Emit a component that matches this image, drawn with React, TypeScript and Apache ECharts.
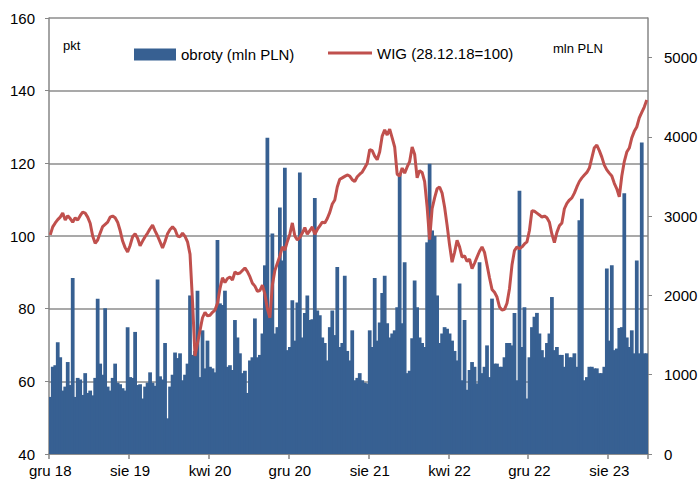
import React, { useEffect, useRef } from "react";
import * as echarts from "echarts";

// Months covered by the x axis (Dec 2018 .. Nov 2023), 4 samples per month
const monthNames = ["sty", "lut", "mar", "kwi", "maj", "cze", "lip", "sie", "wrz", "paź", "lis", "gru"];
const xTickLabels = ["gru 18", "sie 19", "kwi 20", "gru 20", "sie 21", "kwi 22", "gru 22", "sie 23"];
const samplesPerMonth = 4;
const monthsOnAxis = 60;
const labelEvery = 32; // 8 months

const categories: string[] = [];
for (let m = 0; m < monthsOnAxis; m++) {
  const mi = (11 + m) % 12;
  const yr = 2018 + Math.floor((11 + m) / 12);
  for (let w = 0; w < samplesPerMonth; w++) {
    categories.push(`${monthNames[mi]} ${String(yr).slice(2)} #${w + 1}`);
  }
}

// obroty (mln PLN) – right axis
const turnover = [
  720, 1100, 1120, 1410, 1220, 800, 850, 1160, 870, 2220,
  720, 960, 940, 745, 1020, 770, 800, 740, 960, 1960,
  1140, 1000, 1840, 850, 800, 960, 1140, 900, 880, 830,
  800, 1600, 970, 960, 1540, 870, 880, 700, 850, 900,
  1030, 900, 860, 2200, 980, 940, 1400, 450, 850, 1000,
  1280, 1210, 1270, 930, 1000, 1140, 2000, 1250, 1300, 2060,
  970, 1560, 1080, 1430, 1100, 1080, 1030, 2700, 1900, 1880,
  2060, 1100, 1120, 1060, 1690, 1470, 1270, 1020, 1050, 770,
  1180, 1220, 1710, 1220, 1250, 1520, 2380, 3990, 1780, 2780,
  1520, 1600, 3110, 2440, 3610, 1310, 1350, 1940, 1430, 1910,
  3550, 1470, 1780, 2000, 1690, 1700, 3230, 1810, 1750, 1470,
  1400, 1180, 1600, 1810, 1500, 2360, 1350, 1400, 2250, 1300,
  1180, 1560, 930, 960, 1020, 930, 900, 890, 1560, 1350,
  2220, 1430, 1660, 2030, 2250, 1650, 1470, 1520, 1560, 1850,
  3540, 1650, 2420, 1020, 1050, 1460, 2190, 1850, 1470, 1400,
  1350, 2670, 3660, 2820, 2750, 2000, 1400, 1520, 1600, 1580,
  1520, 1430, 1300, 1180, 2150, 930, 1690, 810, 1060, 1160,
  1100, 890, 2420, 1020, 1100, 1370, 970, 1960, 1140, 1140,
  1100, 1100, 1220, 1400, 1400, 1370, 1780, 930, 3320, 1350,
  1850, 700, 1220, 1600, 1730, 1780, 1520, 1310, 1220, 1400,
  1520, 1980, 1310, 1350, 1250, 1250, 1100, 1270, 1220, 1220,
  1270, 1100, 2950, 3220, 930, 970, 1100, 1100, 1080, 1080,
  1020, 1020, 1100, 2340, 1430, 2380, 1310, 1330, 1590, 1600,
  3290, 1470, 1350, 1560, 1270, 2440, 1270, 3930, 1270, 1270,
];

// WIG (28.12.18=100) – left axis
const wig = [
  100.3, 102.5, 103.6, 104.5, 105.2, 106.3, 104.4, 105.6, 104.8, 103.8,
  105.0, 104.4, 105.6, 106.6, 106.3, 105.2, 103.5, 100.0, 98.0, 98.9,
  100.8, 102.6, 103.2, 103.8, 105.2, 105.5, 105.0, 103.8, 101.5, 98.6,
  96.8, 95.6, 97.4, 99.8, 100.6, 99.4, 97.3, 98.6, 99.8, 100.8,
  102.0, 103.0, 101.4, 100.0, 98.4, 96.7, 98.5, 100.6, 101.8, 102.5,
  101.8, 100.0, 99.8, 100.8, 99.9, 98.4, 95.0, 82.0, 67.0, 70.5,
  74.0, 77.5, 79.0, 78.0, 78.2, 79.0, 79.6, 81.5, 85.5, 88.5,
  87.2, 88.3, 88.7, 87.9, 90.1, 89.6, 89.8, 90.5, 91.2, 90.2,
  88.8, 87.0, 86.2, 84.8, 85.0, 86.5, 84.0, 80.0, 77.5, 86.5,
  90.5, 92.5, 94.5, 97.0, 96.1, 98.5, 100.5, 103.6, 100.0, 98.9,
  99.6, 100.8, 102.3, 100.5, 101.5, 102.5, 100.5, 101.8, 102.8, 103.8,
  103.6, 104.8, 106.5, 108.8, 109.9, 113.5, 115.6, 116.0, 116.4, 116.8,
  116.5, 115.5, 115.0, 116.3, 117.0, 117.6, 118.8, 120.0, 123.8, 123.5,
  122.0, 121.0, 123.2, 127.5, 129.2, 127.8, 129.4, 127.0, 124.5, 117.0,
  116.5, 118.7, 117.3, 119.0, 120.5, 124.5, 122.5, 116.0, 118.0, 117.5,
  115.0, 108.0, 99.0, 107.5, 110.5, 113.0, 113.5, 111.8, 108.0, 103.0,
  97.5, 92.8, 95.5, 98.8, 97.0, 94.2, 94.5, 93.0, 93.6, 91.0,
  92.5, 94.2, 95.8, 97.0, 95.5, 92.0, 88.5, 85.3, 84.5, 83.2,
  80.5, 79.6, 79.8, 81.5, 85.5, 92.0, 96.0, 97.0, 96.5, 97.0,
  97.8, 98.4, 101.5, 107.0, 106.8, 106.3, 105.8, 105.2, 105.5, 105.0,
  103.8, 100.5, 98.2, 101.0, 102.8, 103.6, 107.5, 109.0, 109.9, 110.5,
  111.8, 113.5, 115.0, 116.0, 116.8, 117.5, 118.7, 121.5, 124.3, 125.0,
  123.5, 121.7, 119.5, 118.2, 117.3, 116.5, 114.5, 113.0, 110.8, 116.5,
  120.5, 123.1, 124.2, 127.0, 128.8, 130.0, 132.5, 134.0, 135.5, 137.4,
];

const BAR_NAME = "obroty (mln PLN)";
const LINE_NAME = "WIG (28.12.18=100)";
const FONT = "Liberation Sans, Arial, sans-serif";
const AXIS_GRAY = "#868686";
const BAR_BLUE = "#376092";

export default function App() {
  const ref = useRef<HTMLDivElement>(null);

  useEffect(() => {
    if (!ref.current) return;
    const chart = echarts.init(ref.current, undefined, { renderer: "svg" });
    chart.setOption({
      animation: false,
      backgroundColor: "#ffffff",
      textStyle: { fontFamily: FONT },
      grid: { left: 49, right: 51, top: 18, bottom: 29, containLabel: false, outerBoundsMode: "none" },
      legend: [
        {
          data: [BAR_NAME],
          left: 134,
          top: 47,
          padding: 0,
          icon: "rect",
          itemWidth: 42,
          itemHeight: 12,
          selectedMode: false,
          textStyle: { fontSize: 15, color: "#000", fontFamily: FONT },
        },
        {
          data: [LINE_NAME],
          left: 328,
          top: 45.5,
          padding: 0,
          icon: "rect",
          itemWidth: 44,
          itemHeight: 3,
          selectedMode: false,
          textStyle: { fontSize: 15, color: "#000", fontFamily: FONT },
        },
      ],
      graphic: [
        { type: "text", left: 63, top: 39, style: { text: "pkt", fontSize: 13, fill: "#000", fontFamily: FONT } },
        { type: "text", left: 553, top: 42, style: { text: "mln PLN", fontSize: 13, fill: "#000", fontFamily: FONT } },
      ],
      xAxis: {
        type: "category",
        data: categories,
        boundaryGap: true,
        axisLine: { show: true, lineStyle: { color: AXIS_GRAY, width: 1.5 } },
        axisTick: {
          show: true,
          interval: (i: number) => i % labelEvery === 0,
          length: 5,
          lineStyle: { color: AXIS_GRAY, width: 1.5 },
        },
        axisLabel: {
          interval: (i: number) => i % labelEvery === 0,
          formatter: (_v: string, i: number) => xTickLabels[Math.round(i / labelEvery)] ?? "",
          fontSize: 15,
          color: "#000",
          margin: 9,
          fontFamily: FONT,
        },
        splitLine: { show: false },
      },
      yAxis: [
        {
          type: "value",
          position: "left",
          min: 40,
          max: 160,
          interval: 20,
          axisLine: { show: true, lineStyle: { color: AXIS_GRAY, width: 1.5 } },
          axisTick: { show: true, length: 4, lineStyle: { color: AXIS_GRAY } },
          axisLabel: { fontSize: 15, color: "#000", margin: 14, fontFamily: FONT },
          splitLine: { show: true, lineStyle: { color: "#8c8c8c", width: 1.5 } },
        },
        {
          type: "value",
          position: "right",
          min: 0,
          max: 5500,
          interval: 1000,
          axisLine: { show: true, lineStyle: { color: AXIS_GRAY, width: 1.5 } },
          axisTick: { show: true, length: 4, lineStyle: { color: AXIS_GRAY } },
          axisLabel: {
            fontSize: 15,
            color: "#000",
            margin: 16,
            showMaxLabel: false,
            fontFamily: FONT,
            formatter: (v: number) => String(v),
          },
          splitLine: { show: false },
        },
      ],
      series: [
        {
          name: BAR_NAME,
          type: "bar",
          yAxisIndex: 1,
          data: turnover,
          barWidth: "150%",
          itemStyle: { color: BAR_BLUE },
          z: 2,
        },
        {
          name: LINE_NAME,
          type: "line",
          yAxisIndex: 0,
          data: wig,
          symbol: "none",
          lineStyle: { color: "#C0504D", width: 3 },
          itemStyle: { color: "#C0504D" },
          z: 3,
        },
      ],
    });
    return () => chart.dispose();
  }, []);

  return <div ref={ref} style={{ width: 699, height: 483, position: "absolute", left: 0, top: 0 }} />;
}
